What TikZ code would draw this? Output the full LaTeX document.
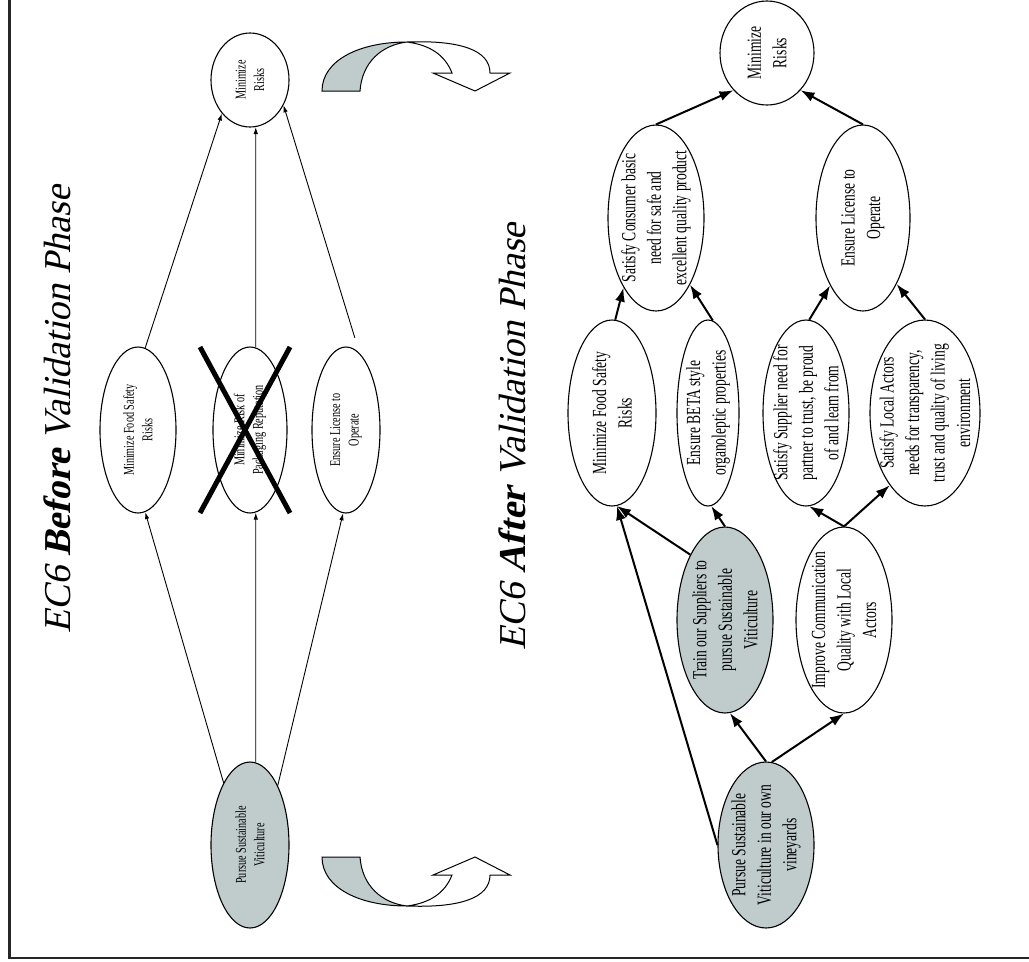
\documentclass[tikz,border=0pt]{standalone}
\usepackage{fontspec}
\setmainfont{Liberation Serif}
\newfontfamily\narrowserif[FakeStretch=0.68]{Liberation Serif}
\newfontfamily\slantserif[FakeSlant=0.22]{Liberation Serif}
\usetikzlibrary{shapes.geometric,arrows.meta}
\definecolor{goalgray}{RGB}{192,204,204}

\tikzset{
  goal/.style={ellipse, draw, line width=1.1pt, inner sep=0pt, fill=white},
  means/.style={goal, fill=goalgray},
  smalltxt/.style={rotate=90, align=center, inner sep=0pt,
    font=\narrowserif\fontsize{15}{18.5}\selectfont},
  bigtxt/.style={rotate=90, align=center, inner sep=0pt,
    font=\narrowserif\fontsize{20}{25.5}\selectfont},
  thinlink/.style={-{Latex[length=7pt,width=4.5pt]}, line width=0.9pt},
  boldlink/.style={-{Latex[length=14pt,width=10pt]}, line width=2pt},
  strike/.style={line width=5pt, line cap=butt},
  phasetitle/.style={rotate=90, anchor=base, inner sep=0pt,
    font=\slantserif\fontsize{38}{44}\selectfont},
  frame/.style={line width=2.5pt, black!85},
  backface/.style={fill=goalgray, draw=black, line width=1pt},
  frontface/.style={fill=white, draw=black, line width=1pt},
}

\begin{document}
\begin{tikzpicture}[x=1pt, y=-1pt]
\useasboundingbox (0,0) rectangle (1029,962);

% page frame (left and bottom rules)
\coordinate (ftop) at (9.5,0);
\coordinate (fcorner) at (9.5,958);
\coordinate (fend) at (1029,958);
\draw[frame] (ftop) -- (fcorner) -- (fend);

% headings
\node[phasetitle] (t1) at (70,410) {EC6 \textbf{Before} Validation Phase};
\node[phasetitle] (t2) at (525,437) {EC6 \textbf{After} Validation Phase};

% turning arrow, top (points down)
\filldraw[backface]
  (322,91) .. controls (322,60) and (360,42) .. (407,42)
  .. controls (382,45) and (362,62) .. (360,91) -- cycle;
\filldraw[frontface]
  (407,42) .. controls (460,40) and (490,50) .. (490,73)
  -- (510,73) -- (475,91) -- (433,73) -- (452,73)
  .. controls (445,55) and (430,45) .. (407,42) -- cycle;

% turning arrow, bottom (points up)
\filldraw[backface]
  (322,857) .. controls (322,888) and (360,906) .. (407,906)
  .. controls (382,903) and (362,886) .. (360,857) -- cycle;
\filldraw[frontface]
  (407,906) .. controls (460,908) and (490,898) .. (490,875)
  -- (510,875) -- (475,857) -- (433,875) -- (452,875)
  .. controls (445,893) and (430,903) .. (407,906) -- cycle;

% ---------- before validation ----------
\node[goal, minimum width=78pt, minimum height=94pt,
  label={[smalltxt, name=mr1-t]center:{Minimize\\Risks}}] (mr1) at (250,80) {};
\node[goal, minimum width=76pt, minimum height=166pt,
  label={[smalltxt, name=fs1-t]center:{Minimize Food Safety\\Risks}}] (fs1) at (138,430) {};
\node[goal, minimum width=74pt, minimum height=166pt,
  label={[smalltxt, name=pk-t]center:{Minimize Risk of\\Packaging Reputation}}] (pk) at (250,430) {};
\node[goal, minimum width=68pt, minimum height=166pt,
  label={[smalltxt, name=lic1-t]center:{Ensure License to\\Operate}}] (lic1) at (346,430) {};
\node[means, minimum width=78pt, minimum height=166pt,
  label={[smalltxt, name=p1-t]center:{Pursue Sustainable\\Viticulture}}] (p1) at (250,845) {};

\draw[thinlink] (p1.113) -- (fs1.-85);
\draw[thinlink] (p1.86) -- (pk.-86);
\draw[thinlink] (p1.65) -- (lic1.-92);
\draw[thinlink] (fs1.85) -- (mr1.-130);
\draw[thinlink] (pk.86) -- (mr1.-83);
\draw[thinlink, shorten <=16pt] (lic1.80) -- (mr1.-37);

% removed goal
\draw[strike] (200,347) -- (290,513);
\draw[strike] (290,347) -- (200,513);

% ---------- after validation ----------
\node[goal, minimum width=94pt, minimum height=104pt,
  label={[bigtxt, name=mr2-t]center:{Minimize\\Risks}}] (mr2) at (767,53) {};
\node[goal, minimum width=96pt, minimum height=186pt,
  label={[bigtxt, name=sc-t]center:{Satisfy Consumer basic\\need for safe and\\excellent quality product}}] (sc) at (656,218) {};
\node[goal, minimum width=94pt, minimum height=186pt,
  label={[bigtxt, name=lic2-t]center:{Ensure License to\\Operate}}] (lic2) at (863,218) {};
\node[goal, minimum width=88pt, minimum height=186pt,
  label={[bigtxt, name=fs2-t]center:{Minimize Food Safety\\Risks}}] (fs2) at (612,413) {};
\node[goal, minimum width=62pt, minimum height=186pt,
  label={[bigtxt, name=beta-t]center:{Ensure BETA style\\organoleptic properties}}] (beta) at (708,413) {};
\node[goal, minimum width=86pt, minimum height=186pt,
  label={[bigtxt, name=sup-t]center:{Satisfy Supplier need for\\partner to trust, be proud\\of and learn from}}] (sup) at (806,413) {};
\node[goal, minimum width=110pt, minimum height=186pt,
  label={[bigtxt, name=loc-t]center:{Satisfy Local Actors\\needs for transparency,\\trust and quality of living\\environment}}] (loc) at (925,413) {};
\node[means, minimum width=96pt, minimum height=186pt,
  label={[bigtxt, name=tr-t]center:{Train our Suppliers to\\pursue Sustainable\\Viticulture}}] (tr) at (725,620) {};
\node[goal, minimum width=96pt, minimum height=186pt,
  label={[bigtxt, name=imp-t]center:{Improve Communication\\Quality with Local\\Actors}}] (imp) at (844,620) {};
\node[means, minimum width=96pt, minimum height=166pt,
  label={[bigtxt, name=p2-t]center:{Pursue Sustainable\\Viticulture in our own\\vineyards}}] (p2) at (766,845) {};

\draw[boldlink] (p2.north) -- (tr.-87);
\draw[boldlink] (p2.86) -- (imp.south);
\draw[boldlink] (p2.west) -- (fs2.-87);
\draw[boldlink] (tr.118) -- (fs2.-87);
\draw[boldlink] (tr.north) -- (beta.-88);
\draw[boldlink] (imp.north) -- (sup.-88);
\draw[boldlink] (imp.north) -- (loc.-116);
\draw[boldlink] (fs2.88) -- (sc.-115);
\draw[boldlink] (beta.87) -- (sc.-63);
\draw[boldlink] (sup.88) -- (lic2.-116);
\draw[boldlink] (loc.north) -- (lic2.-63);
\draw[boldlink] (sc.north) -- (mr2.-132);
\draw[boldlink] (lic2.north) -- (mr2.-48);
\end{tikzpicture}
\end{document}
